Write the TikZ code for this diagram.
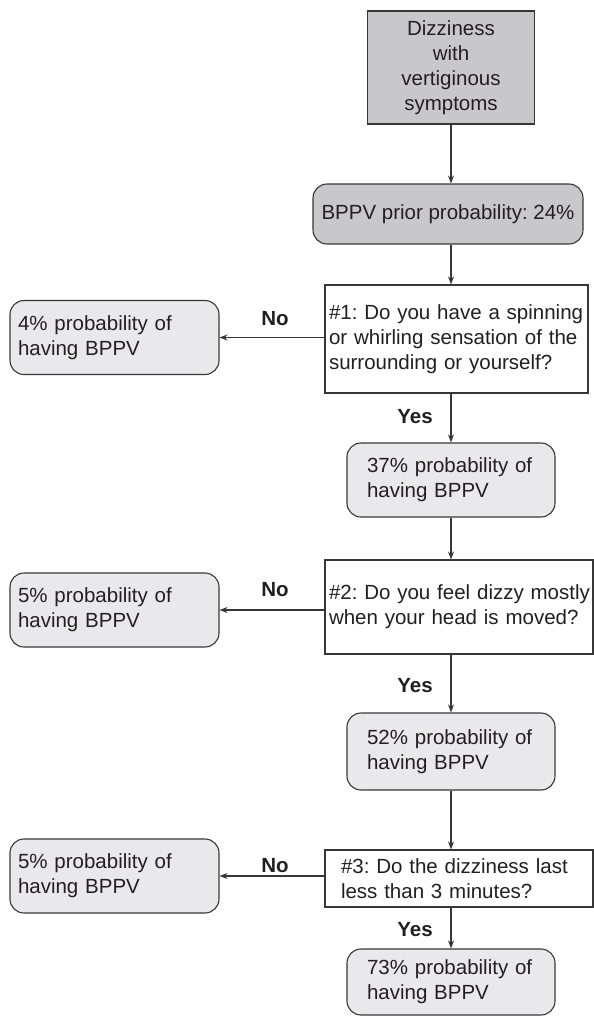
\documentclass[tikz,border=0pt]{standalone}
\usepackage{fontspec}
\setmainfont{Liberation Sans}
\usepackage{tikz}
\usetikzlibrary{arrows.meta,calc,positioning}
\definecolor{boxdark}{RGB}{200,200,203}
\definecolor{boxlight}{RGB}{233,233,236}
\definecolor{edge}{RGB}{55,55,55}
\definecolor{ink}{RGB}{35,31,32}
\frenchspacing
\hyphenpenalty=10000
\exhyphenpenalty=10000

\begin{document}
\begin{tikzpicture}[x=1pt,y=-1pt,
  txt/.style={font=\fontsize{20.5}{25}\selectfont,text=ink},
  startbox/.style={txt,draw=edge,line width=1.1pt,fill=boxdark,align=center,text width=150pt,minimum width=167pt,minimum height=113pt,inner sep=0pt},
  priorbox/.style={txt,draw=edge,line width=1.1pt,fill=boxdark,rounded corners=14pt,minimum width=270pt,minimum height=60pt},
  quest/.style={txt,draw=edge,line width=1.1pt,fill=white,align=left,inner ysep=0pt},
  prob/.style={txt,draw=edge,line width=1.1pt,fill=boxlight,rounded corners=14pt,align=left,minimum height=74pt,inner ysep=0pt},
  lbl/.style={font=\fontsize{20.5}{25}\selectfont\bfseries,text=ink,inner sep=0pt},
  arr/.style={draw=edge,line width=1.1pt,-{Stealth[length=8pt,width=6pt]}}]
\useasboundingbox (0,0) rectangle (594,1017);
\node[startbox] (dizzy) at (451,67.5) {Dizziness\\with\\vertiginous\\symptoms};
\node[priorbox] (prior) at (448,214) {BPPV prior probability: 24\%};
\node[quest,inner xsep=4pt,text width=255pt,minimum height=108pt] (q1) at (456.5,339) {\mbox{\#1: Do you have a spinning}\\\mbox{or whirling sensation of the}\\surrounding or yourself?};
\node[prob,inner xsep=8pt,text width=193pt] (n1) at (114.5,337.5) {4\% probability of\\having BPPV};
\node[prob,inner xsep=20pt,text width=168pt] (p37) at (451,480) {37\% probability of\\having BPPV};
\node[quest,inner xsep=4pt,text width=260pt,minimum height=94pt] (q2) at (459,607) {\mbox{\#2: Do you feel dizzy mostly}\\when your head is moved?};
\node[prob,inner xsep=8pt,text width=193pt] (n2) at (114.5,610) {5\% probability of\\having BPPV};
\node[prob,inner xsep=20pt,text width=168pt,minimum height=77pt] (p52) at (451,751.5) {52\% probability of\\having BPPV};
\node[quest,inner xsep=16pt,text width=236pt,minimum height=57pt] (q3) at (459,878.5) {\#3: Do the dizziness last\\less than 3 minutes?};
\node[prob,inner xsep=8pt,text width=193pt] (n3) at (114.5,876) {5\% probability of\\having BPPV};
\node[prob,inner xsep=20pt,text width=168pt,minimum height=66pt] (p73) at (451,982) {73\% probability of\\having BPPV};
\node[lbl] (no1) at (275,319) {No};
\node[lbl] (no2) at (275,590) {No};
\node[lbl] (no3) at (275,866) {No};
\node[lbl] (yes1) at (415,417) {Yes};
\node[lbl] (yes2) at (415,686) {Yes};
\node[lbl] (yes3) at (415,930) {Yes};
\draw[arr] (dizzy.south) -- (dizzy.south |- prior.north);
\draw[arr] (prior.south -| dizzy) -- (q1.north -| dizzy);
\draw[arr] (q1.west |- n1) -- (n1);
\draw[arr] (q1.south -| p37) -- (p37);
\draw[arr] (p37) -- (p37 |- q2.north);
\draw[arr] (q2.west |- n2) -- (n2);
\draw[arr] (q2.south -| p52) -- (p52);
\draw[arr] (p52) -- (p52 |- q3.north);
\draw[arr] (q3.west |- n3) -- (n3);
\draw[arr] (q3.south -| p73) -- (p73);
\end{tikzpicture}
\end{document}
